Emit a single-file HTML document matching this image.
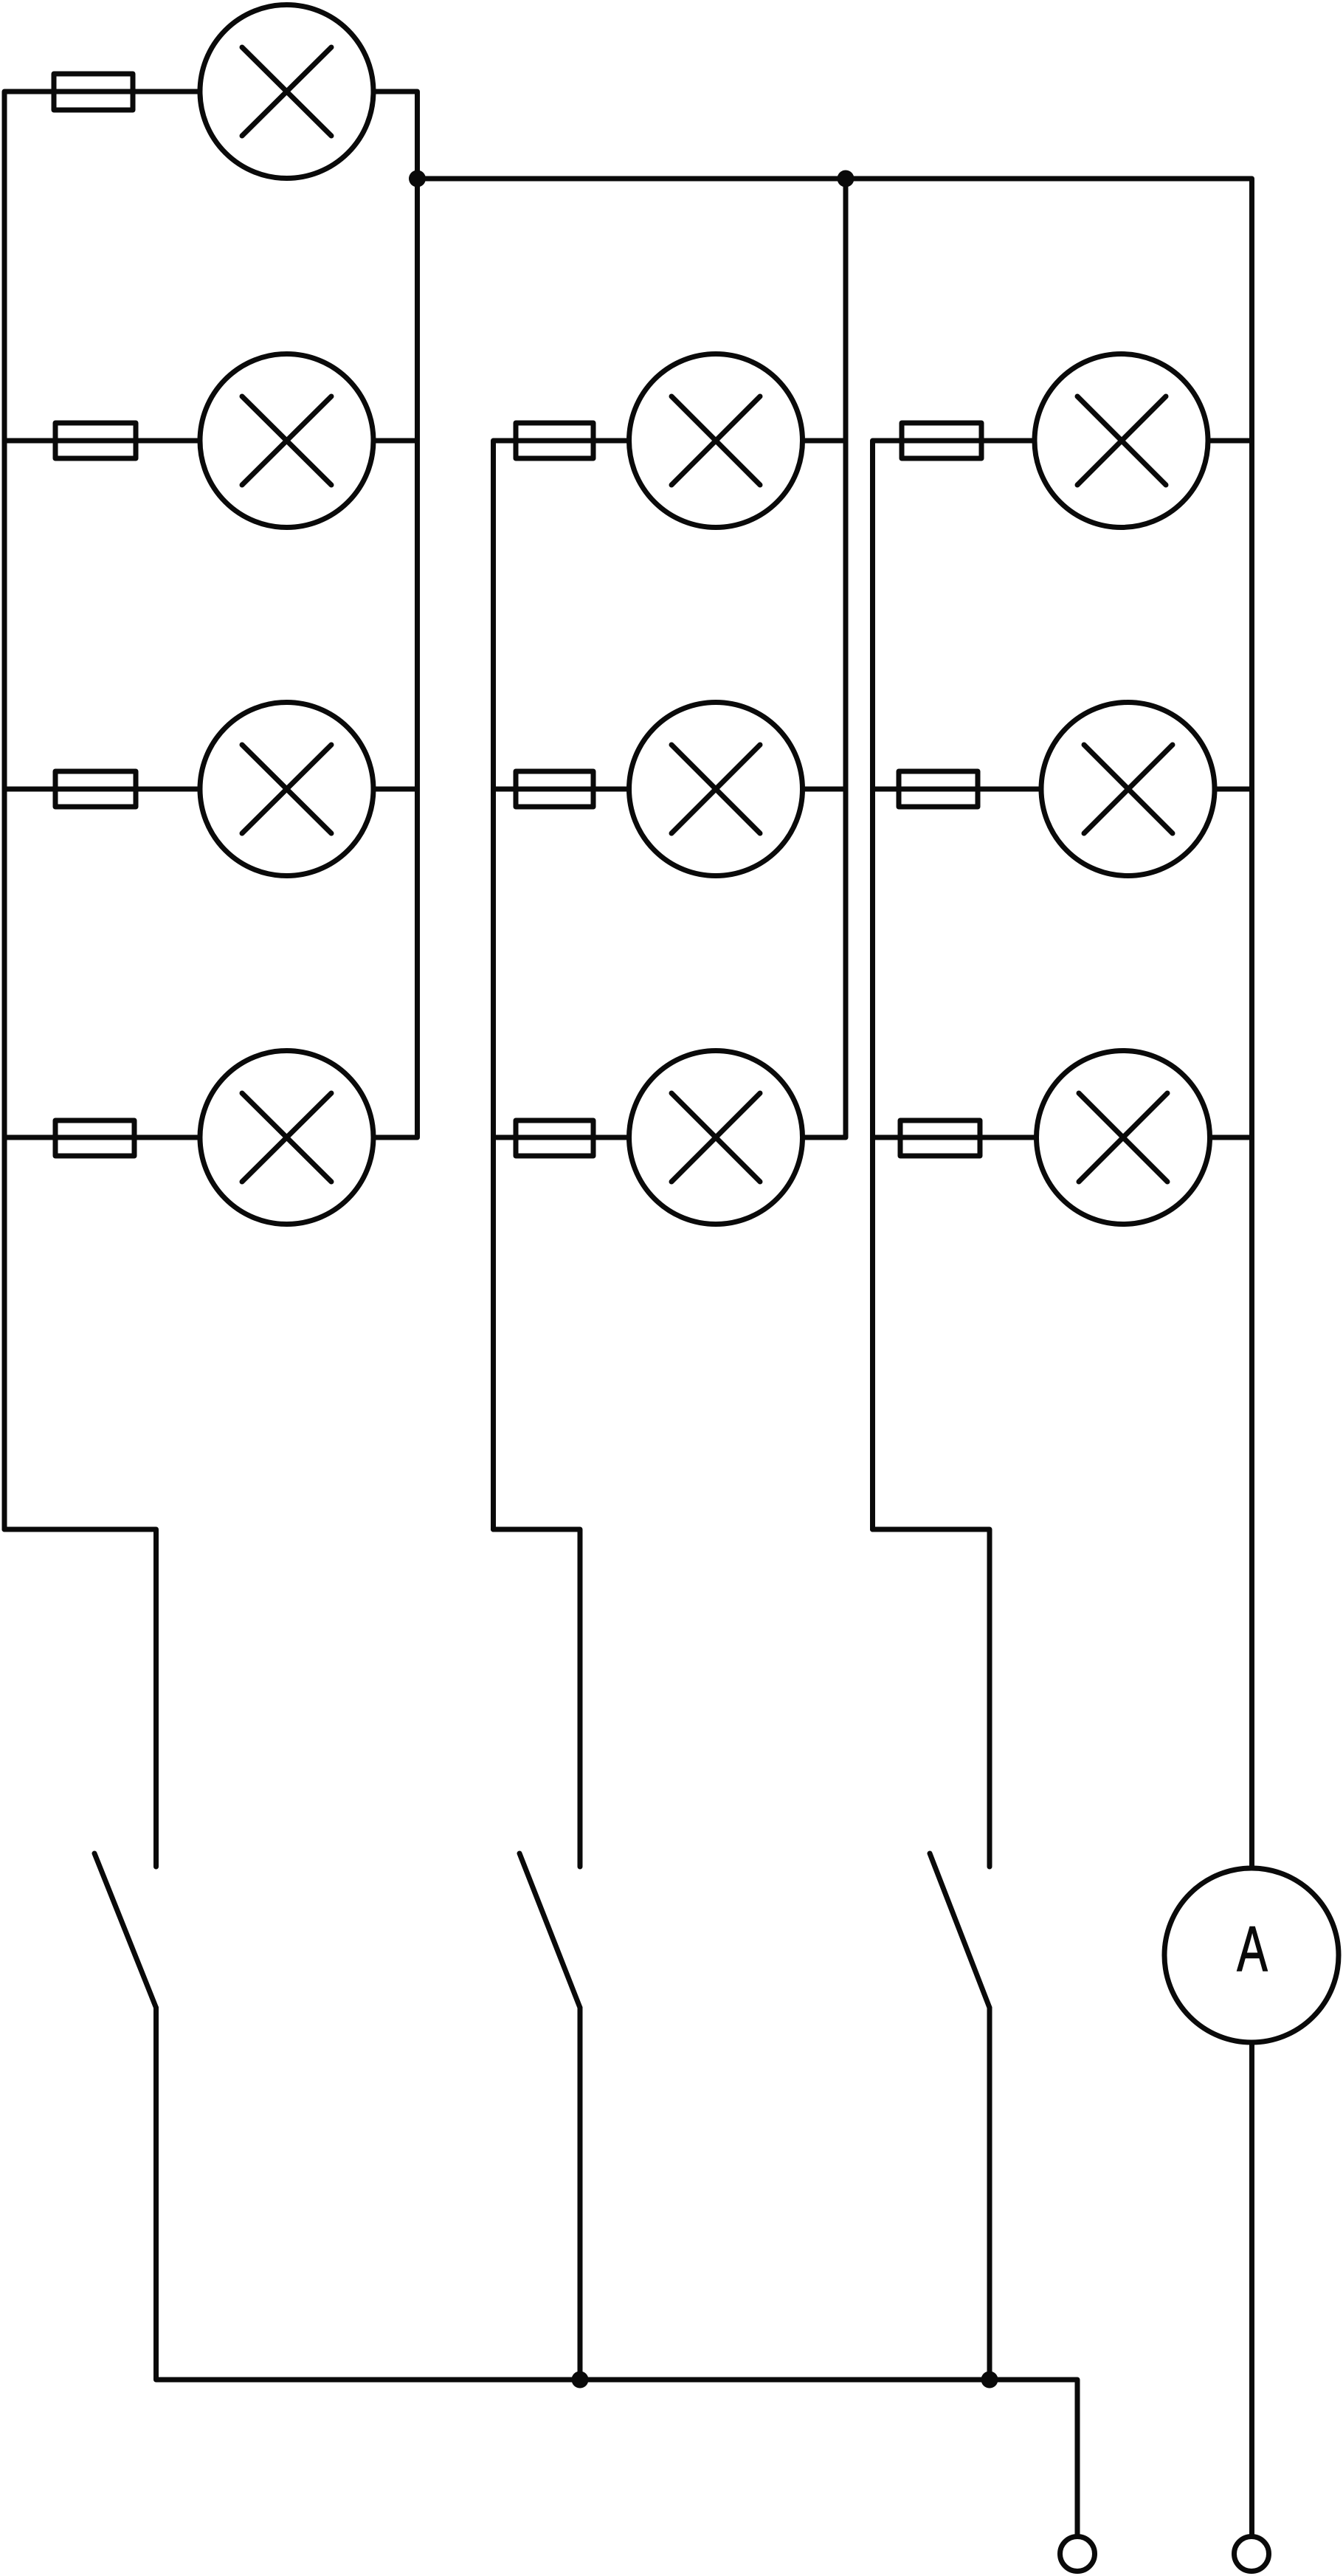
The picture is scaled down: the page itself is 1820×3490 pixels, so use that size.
<!DOCTYPE html>
<html><head><meta charset="utf-8"><style>html,body{margin:0;padding:0;background:#fff}svg{display:block}</style></head>
<body>
<svg xmlns="http://www.w3.org/2000/svg" width="1820" height="3490" viewBox="0 0 1820 3490">
<rect width="1820" height="3490" fill="#fff"/>
<g fill="none" stroke="#0a0a0a" stroke-width="7" stroke-linejoin="round" stroke-linecap="round">
<!-- wires -->
<path d="M6 2072V124H268M509 124H565.5V1541H509"/>
<path d="M6 597H268M509 597H565.5M6 1069H268M509 1069H565.5M6 1541H268"/>
<path d="M6 2072H211.5V2529M211.5 2720V3224H1460V3436"/>
<path d="M565.5 242H1696.5V2528M1146 242V1541H1091"/>
<path d="M668.5 2072V597H849M1091 597H1146M668.5 1069H849M1091 1069H1146M668.5 1541H849"/>
<path d="M668.5 2072H786V2529M786 2720V3224"/>
<path d="M1182.5 2072V597H1399M1640 597H1696.5M1182.5 1069H1408M1649 1069H1696.5M1182.5 1541H1402M1642 1541H1696.5"/>
<path d="M1182.5 2072H1341V2529M1341 2720V3224"/>
<path d="M1696.5 2770V3436"/>
<!-- switches -->
<path d="M128 2511L211.5 2720M704 2511L786 2720M1260 2511L1341 2720"/>
<!-- fuses -->
<rect x="73" y="100" width="107" height="49"/>
<rect x="75" y="573" width="109" height="48"/>
<rect x="75" y="1045" width="109" height="48"/>
<rect x="75" y="1518" width="107" height="48"/>
<rect x="699" y="573" width="105" height="48"/>
<rect x="699" y="1045" width="105" height="48"/>
<rect x="699" y="1518" width="105" height="48"/>
<rect x="1222" y="573" width="108" height="48"/>
<rect x="1218" y="1045" width="107" height="48"/>
<rect x="1220" y="1518" width="108" height="48"/>
<!-- lamps -->
<g>
<circle cx="388.500" cy="124" r="117.500"/><path d="M328 64L449 184M449 64L328 184"/>
<circle cx="388.500" cy="597" r="117.500"/><path d="M328 537L449 657M449 537L328 657"/>
<circle cx="388.500" cy="1069" r="117.500"/><path d="M328 1009L449 1129M449 1009L328 1129"/>
<circle cx="388.500" cy="1541" r="117.500"/><path d="M328 1481L449 1601M449 1481L328 1601"/>
<circle cx="970" cy="597" r="117.500"/><path d="M910 537L1030 657M1030 537L910 657"/>
<circle cx="970" cy="1069" r="117.500"/><path d="M910 1009L1030 1129M1030 1009L910 1129"/>
<circle cx="970" cy="1541" r="117.500"/><path d="M910 1481L1030 1601M1030 1481L910 1601"/>
<circle cx="1519.500" cy="597" r="117.500"/><path d="M1460 537L1580 657M1580 537L1460 657"/>
<circle cx="1528.500" cy="1069" r="117.500"/><path d="M1469 1009L1589 1129M1589 1009L1469 1129"/>
<circle cx="1522" cy="1541" r="117.500"/><path d="M1462 1481L1582 1601M1582 1481L1462 1601"/>
</g>
<!-- ammeter and terminals -->
<circle cx="1696" cy="2649" r="118"/>
<circle cx="1460" cy="3460" r="23.500"/>
<circle cx="1696" cy="3460" r="23.500"/>
</g>
<text transform="translate(1697 2670) scale(.72 1)" text-anchor="middle" font-family="Liberation Sans, sans-serif" font-size="86" fill="#0a0a0a" stroke="#0a0a0a" stroke-width="1.500">A</text>
<g fill="#0a0a0a">
<circle cx="565.500" cy="242" r="11.500"/>
<circle cx="1146" cy="242" r="11.500"/>
<circle cx="786" cy="3224" r="11.500"/>
<circle cx="1341" cy="3224" r="11.500"/>
</g>
</svg>
</body></html>
